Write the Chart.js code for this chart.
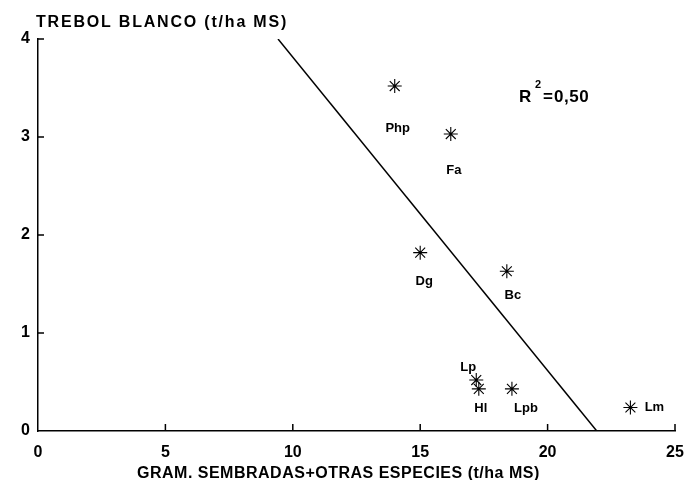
<!DOCTYPE html>
<html>
<head>
<meta charset="utf-8">
<script src="https://cdn.jsdelivr.net/npm/chart.js@4.4.0/dist/chart.umd.min.js"></script>
<style>
    html, body { margin: 0; padding: 0; background: #fff; }
    #wrap { width: 686px; height: 480px; position: relative; }
</style>
</head>
<body>
<div id="wrap"><canvas id="chart"></canvas></div>
<script>
// Especies
const species = ['Php', 'Fa', 'Dg', 'Bc', 'Lp', 'Hl', 'Lpb', 'Lm'];
// Gram. sembradas + otras especies (t/ha MS)
const grassYield = [14.0, 16.2, 15.0, 18.4, 17.2, 17.3, 18.6, 23.25];
// Trebol blanco (t/ha MS)
const cloverYield = [3.52, 3.03, 1.82, 1.63, 0.52, 0.43, 0.43, 0.24];
// Recta de regresion (extremos)
const regX = [9.42, 21.93];
const regY = [4, 0];
const xTicks = [0, 5, 10, 15, 20, 25];
const yTicks = [0, 1, 2, 3, 4];
const yTitle = 'TREBOL BLANCO (t/ha MS)';
const xTitle = 'GRAM. SEMBRADAS+OTRAS ESPECIES (t/ha MS)';
const r2Value = '0,50';

// label offsets from each point, px
const labelOffsets = {
    Php: [3, 42], Fa: [3, 36], Dg: [4, 29], Bc: [6, 24],
    Lp: [-8, -13], Hl: [2, 20], Lpb: [14, 20], Lm: [24, 0]
};

const FONT = '"Liberation Sans", Arial, Helvetica, sans-serif';

const annotate = {
    id: 'annotate',
    afterDraw(chart) {
        const { ctx, scales: { x, y } } = chart;
        ctx.save();
        ctx.strokeStyle = '#000';
        ctx.lineWidth = 1.5;

        // inward tick marks
        ctx.beginPath();
        xTicks.slice(1).forEach(v => {
            const px = x.getPixelForValue(v);
            ctx.moveTo(px, y.bottom);
            ctx.lineTo(px, y.bottom - 7);
        });
        yTicks.slice(1).forEach(v => {
            const py = y.getPixelForValue(v);
            ctx.moveTo(x.left, py);
            ctx.lineTo(x.left + 6, py);
        });
        ctx.stroke();

        // point labels
        ctx.fillStyle = '#000';
        ctx.font = 'bold 13px ' + FONT;
        ctx.textAlign = 'center';
        ctx.textBaseline = 'middle';
        species.forEach((s, i) => {
            const [dx, dy] = labelOffsets[s];
            ctx.fillText(s,
                x.getPixelForValue(grassYield[i]) + dx,
                y.getPixelForValue(cloverYield[i]) + dy);
        });

        // axis titles
        ctx.textAlign = 'left';
        ctx.textBaseline = 'alphabetic';
        ctx.font = 'bold 16px ' + FONT;
        ctx.letterSpacing = '1.8px';
        ctx.fillText(yTitle, 36, 27);
        ctx.letterSpacing = '0.5px';
        ctx.fillText(xTitle, 137, 478);

        // R2
        ctx.letterSpacing = '0.5px';
        ctx.font = 'bold 17px ' + FONT;
        ctx.fillText('R', 519, 102);
        ctx.font = 'bold 11px ' + FONT;
        ctx.fillText('2', 535, 88);
        ctx.font = 'bold 17px ' + FONT;
        ctx.fillText('=', 543, 102);
        ctx.fillText(r2Value, 554, 102);
        ctx.restore();
    }
};

new Chart(document.getElementById('chart').getContext('2d'), {
    type: 'scatter',
    data: {
        datasets: [
            {
                data: grassYield.map((g, i) => ({ x: g, y: cloverYield[i] })),
                pointStyle: 'star',
                pointRadius: 7,
                pointBorderColor: '#000',
                pointBackgroundColor: '#000',
                pointBorderWidth: 1.1
            },
            {
                data: regX.map((v, i) => ({ x: v, y: regY[i] })),
                showLine: true,
                borderColor: '#000',
                borderWidth: 1.5,
                pointRadius: 0
            }
        ]
    },
    options: {
        responsive: true,
        maintainAspectRatio: false,
        animation: false,
        layout: { padding: { top: 39, right: 11, left: 0, bottom: 0 } },
        plugins: {
            legend: { display: false },
            tooltip: { enabled: false }
        },
        scales: {
            x: {
                type: 'linear',
                min: 0,
                max: 25,
                afterBuildTicks: s => { s.ticks = xTicks.map(v => ({ value: v })); },
                afterFit: s => { s.height = 49; s.paddingLeft = 0; s.paddingRight = 0; },
                grid: { display: false, drawTicks: false },
                border: { display: true, color: '#000', width: 1.5 },
                ticks: {
                    padding: 12,
                    color: '#000',
                    font: { family: FONT, size: 16, weight: 'bold' }
                }
            },
            y: {
                min: 0,
                max: 4,
                afterBuildTicks: s => { s.ticks = yTicks.map(v => ({ value: v })); },
                afterFit: s => { s.width = 38; s.paddingTop = 0; s.paddingBottom = 0; },
                grid: { display: false, drawTicks: false },
                border: { display: true, color: '#000', width: 1.5 },
                ticks: {
                    padding: 8,
                    color: '#000',
                    font: { family: FONT, size: 16, weight: 'bold' }
                }
            }
        }
    },
    plugins: [annotate]
});
</script>
</body>
</html>
